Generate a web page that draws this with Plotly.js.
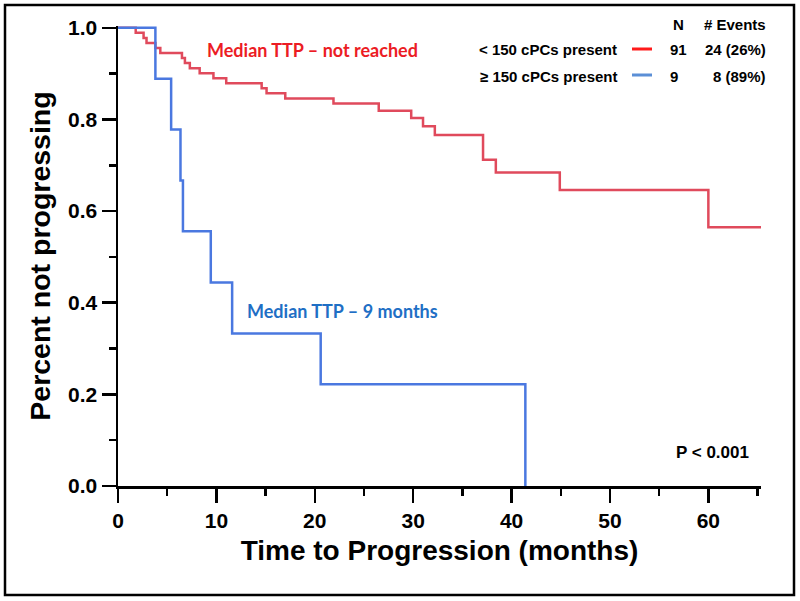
<!DOCTYPE html>
<html>
<head>
<meta charset="utf-8">
<script src="https://cdn.plot.ly/plotly-3.0.1.min.js"></script>
<style>
  html, body { margin: 0; padding: 0; background: #ffffff; }
  #chart { width: 800px; height: 601px; }
</style>
</head>
<body>
<div id="chart"></div>
<script>
// ---- Data ----
// < 150 cPCs present (red) : Kaplan-Meier step points (months, proportion)
const redTime = [0, 1.8, 2.6, 2.9, 3.8, 4.3, 6.5, 6.8, 7.3, 8.3, 9.7, 11.0, 14.6, 15.1, 17.0, 21.9, 26.5, 29.8, 31.0, 32.2, 37.1, 38.4, 44.9, 60.0, 65.4];
const redSurv = [1.0, 0.989, 0.978, 0.967, 0.956, 0.945, 0.934, 0.923, 0.912, 0.901, 0.890, 0.879, 0.868, 0.857, 0.846, 0.835, 0.819, 0.803, 0.785, 0.766, 0.712, 0.684, 0.646, 0.565, 0.565];
// >= 150 cPCs present (blue)
const blueTime = [0, 3.8, 5.4, 6.35, 6.6, 9.43, 11.6, 20.6, 41.4];
const blueSurv = [1.0, 0.889, 0.778, 0.667, 0.556, 0.444, 0.333, 0.222, 0.0];

const xTickVals = [0, 10, 20, 30, 40, 50, 60];
const yTickVals = [0, 0.2, 0.4, 0.6, 0.8, 1.0];
const yTickText = ['0.0', '0.2', '0.4', '0.6', '0.8', '1.0'];

const legendRows = ['&lt; 150 cPCs present', '≥ 150 cPCs present'];
const legendN = ['91', '9'];
const legendEvents = ['24 (26%)', '8 (89%)'];

// ---- Layout geometry (pixels) ----
const W = 800, H = 601;
const M = {l: 118, r: 39, t: 26, b: 115};
const PW = W - M.l - M.r, PH = H - M.t - M.b;
const px = x => (x - M.l) / PW;          // pixel -> paper x
const py = y => (H - M.b - y) / PH;      // pixel -> paper y

const arial = '"Liberation Sans", Arial, sans-serif';
const calib = 'Lato, "Open Sans", sans-serif';

const RED = '#e04a5c', BLUE = '#4a78e0';

const traces = [
  {x: redTime, y: redSurv, type: 'scatter', mode: 'lines', line: {shape: 'hv', color: RED, width: 2.5}, showlegend: false, hoverinfo: 'skip'},
  {x: blueTime, y: blueSurv, type: 'scatter', mode: 'lines', line: {shape: 'hv', color: BLUE, width: 2.5}, showlegend: false, hoverinfo: 'skip'}
];

const ann = [];
function addText(text, x, y, opts) {
  ann.push(Object.assign({text: text, xref: 'paper', yref: 'paper', x: px(x), y: py(y), showarrow: false,
    xanchor: 'center', yanchor: 'middle', font: {family: arial, size: 15, color: '#000'}}, opts || {}));
}
addText('<b>N</b>', 678, 24);
addText('<b># Events</b>', 768, 24, {xanchor: 'right'});
legendRows.forEach((t, i) => {
  const yy = [49, 76][i];
  addText('<b>' + t + '</b>', 619, yy, {xanchor: 'right'});
  addText('<b>' + legendN[i] + '</b>', 668, yy, {xanchor: 'left'});
  addText('<b>' + legendEvents[i] + '</b>', 768, yy, {xanchor: 'right'});
});
addText('<b>Median TTP – not reached</b>', 205, 50, {xanchor: 'left', font: {family: calib, size: 18, color: '#ec1c24'}});
addText('<b>Median TTP – 9 months</b>', 245, 311, {xanchor: 'left', font: {family: calib, size: 18, color: '#1f6fc5'}});
addText('<b>P &lt; 0.001</b>', 751, 452, {xanchor: 'right', font: {family: arial, size: 17, color: '#000'}});

const shapes = [
  // outer frame
  {type: 'rect', xref: 'paper', yref: 'paper', x0: px(5), x1: px(794), y0: py(595), y1: py(5), line: {color: '#000', width: 2.5}, fillcolor: 'rgba(0,0,0,0)'},
  // legend line samples
  {type: 'line', xref: 'paper', yref: 'paper', x0: px(632), x1: px(652), y0: py(49), y1: py(49), line: {color: '#ff1a1a', width: 3}},
  {type: 'line', xref: 'paper', yref: 'paper', x0: px(632), x1: px(652), y0: py(75), y1: py(75), line: {color: '#5b8fd6', width: 3}}
];

const layout = {
  width: W, height: H,
  margin: M,
  paper_bgcolor: '#fff', plot_bgcolor: '#fff',
  showlegend: false,
  xaxis: {
    range: [0, 65.35], showgrid: false, zeroline: false,
    showline: true, linecolor: '#000', linewidth: 2.5,
    ticks: 'outside', ticklen: 14, tickwidth: 2.5, tickcolor: '#000',
    tickvals: xTickVals,
    tickfont: {family: arial, size: 21, color: '#000', weight: 'bold'},
    minor: {dtick: 5, tick0: 0, ticks: 'outside', ticklen: 7, tickwidth: 2.5, tickcolor: '#000', showgrid: false},
    title: {text: '<b>Time to Progression (months)</b>', font: {family: arial, size: 28, color: '#000'}, standoff: 10}
  },
  yaxis: {
    range: [0, 1.004], showgrid: false, zeroline: false,
    showline: true, linecolor: '#000', linewidth: 2.5,
    ticks: 'outside', ticklen: 14, tickwidth: 2.5, tickcolor: '#000',
    tickvals: yTickVals, ticktext: yTickText,
    tickfont: {family: arial, size: 21, color: '#000', weight: 'bold'},
    minor: {dtick: 0.1, tick0: 0, ticks: 'outside', ticklen: 7, tickwidth: 2.5, tickcolor: '#000', showgrid: false},
    title: {text: '<b>Percent not progressing</b>', font: {family: arial, size: 28.5, color: '#000'}, standoff: 9}
  },
  annotations: ann,
  shapes: shapes
};

Plotly.newPlot('chart', traces, layout, {staticPlot: true, displayModeBar: false});
</script>
</body>
</html>
